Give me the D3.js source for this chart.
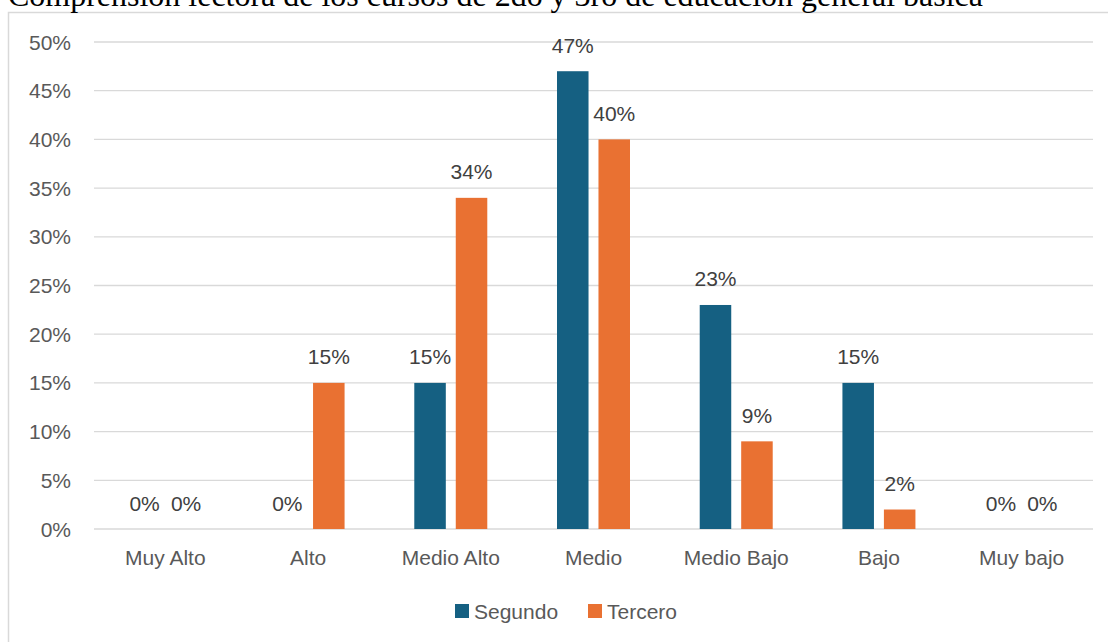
<!DOCTYPE html>
<html>
<head>
<meta charset="utf-8">
<script src="https://cdn.jsdelivr.net/npm/d3@7"></script>
<style>
  body { margin: 0; background: #fff; }
  svg { display: block; }
</style>
</head>
<body>
<div id="chart"></div>
<script>
const categories = ['Muy Alto', 'Alto', 'Medio Alto', 'Medio', 'Medio Bajo', 'Bajo', 'Muy bajo'];
const seriesNames = ['Segundo', 'Tercero'];
const segundo = [0, 0, 15, 47, 23, 15, 0];
const tercero = [0, 15, 34, 40, 9, 2, 0];
const yTicks = [0, 5, 10, 15, 20, 25, 30, 35, 40, 45, 50];
const title = 'Comprensión lectora de los cursos de 2do y 3ro de educación general básica';

const COLORS = { Segundo: '#156082', Tercero: '#E97132' };
const FONT = "'Liberation Sans', Arial, sans-serif";
const FS = 21;

const width = 1108, height = 642;
const svg = d3.select('#chart').append('svg')
  .attr('width', width)
  .attr('height', height);

// chart frame
svg.append('rect')
  .attr('x', 8.5).attr('y', 12.5)
  .attr('width', 1120).attr('height', 660)
  .attr('fill', 'none')
  .attr('stroke', '#d9d9d9')
  .attr('stroke-width', 1.5);

svg.append('text')
  .attr('x', 8).attr('y', 6)
  .attr('font-family', "'Liberation Serif', 'Times New Roman', serif")
  .attr('font-size', 31)
  .attr('textLength', 975)
  .attr('lengthAdjust', 'spacingAndGlyphs')
  .attr('fill', '#000')
  .text(title);

const x = d3.scaleBand().domain(categories).range([94, 1093]);
const y = d3.scaleLinear().domain([0, 50]).range([529, 42]);
const xs = d3.scaleBand().domain(seriesNames).range([-36.5, 36.5]).paddingInner(0.24);

// gridlines
svg.append('g')
  .selectAll('line')
  .data(yTicks)
  .join('line')
  .attr('x1', 94).attr('x2', 1093)
  .attr('y1', d => y(d)).attr('y2', d => y(d))
  .attr('stroke', '#d9d9d9')
  .attr('stroke-width', 1.3);

// y labels
svg.append('g')
  .selectAll('text')
  .data(yTicks)
  .join('text')
  .attr('x', 71)
  .attr('y', d => y(d) + 7.5)
  .attr('text-anchor', 'end')
  .attr('font-family', FONT)
  .attr('font-size', FS)
  .attr('fill', '#595959')
  .text(d => d + '%');

// x labels
svg.append('g')
  .selectAll('text')
  .data(categories)
  .join('text')
  .attr('x', d => x(d) + x.bandwidth() / 2)
  .attr('y', 565)
  .attr('text-anchor', 'middle')
  .attr('font-family', FONT)
  .attr('font-size', FS)
  .attr('fill', '#595959')
  .text(d => d);

const rows = [];
categories.forEach((c, i) => {
  rows.push({ cat: c, s: 'Segundo', v: segundo[i] });
  rows.push({ cat: c, s: 'Tercero', v: tercero[i] });
});

const cx = d => x(d.cat) + x.bandwidth() / 2 + xs(d.s);

svg.append('g')
  .selectAll('rect')
  .data(rows.filter(d => d.v > 0))
  .join('rect')
  .attr('x', cx)
  .attr('width', xs.bandwidth())
  .attr('y', d => y(d.v))
  .attr('height', d => y(0) - y(d.v))
  .attr('fill', d => COLORS[d.s]);

svg.append('g')
  .selectAll('text')
  .data(rows)
  .join('text')
  .attr('x', d => cx(d) + xs.bandwidth() / 2)
  .attr('y', d => y(d.v) - 18.5)
  .attr('text-anchor', 'middle')
  .attr('font-family', FONT)
  .attr('font-size', FS)
  .attr('fill', '#404040')
  .text(d => d.v + '%');

// legend
const legendX = { Segundo: 455, Tercero: 588 };
const legend = svg.append('g')
  .selectAll('g')
  .data(seriesNames)
  .join('g')
  .attr('transform', d => `translate(${legendX[d]},604)`);
legend.append('rect')
  .attr('width', 14).attr('height', 14)
  .attr('fill', d => COLORS[d]);
legend.append('text')
  .attr('x', 19).attr('y', 14.5)
  .attr('font-family', FONT)
  .attr('font-size', FS)
  .attr('fill', '#595959')
  .text(d => d);
</script>
</body>
</html>
